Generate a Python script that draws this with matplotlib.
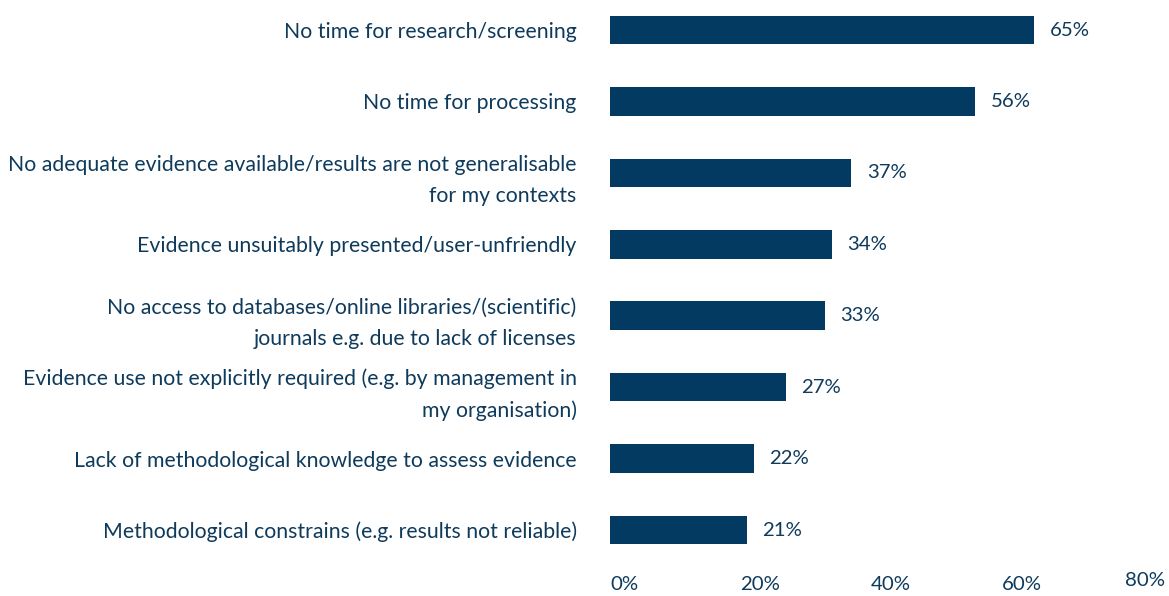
import matplotlib

matplotlib.use("Agg")
import matplotlib.pyplot as plt
from matplotlib.transforms import ScaledTranslation

# survey answers, top to bottom
categories = [
    "No time for research/screening",
    "No time for processing",
    "No adequate evidence available/results are not generalisable\nfor my contexts",
    "Evidence unsuitably presented/user-unfriendly",
    "No access to databases/online libraries/(scientific)\njournals e.g. due to lack of licenses",
    "Evidence use not explicitly required (e.g. by management in\nmy organisation)",
    "Lack of methodological knowledge to assess evidence",
    "Methodological constrains (e.g. results not reliable)",
]
values = [65, 56, 37, 34, 33, 27, 22, 21]
tick_values = [0, 20, 40, 60, 80]
tick_labels = ["0%", "20%", "40%", "60%", "80%"]

BAR = "#023a62"
TXT = "#0e3a5c"
plt.rcParams["font.family"] = ["Lato", "DejaVu Sans"]

fig = plt.figure(figsize=(11.69, 5.96), dpi=100)
ax = fig.add_axes([610 / 1169, 46 / 596, 522 / 1169, 540 / 596])

pos = list(range(len(categories)))
ax.barh(pos, values, height=0.4, color=BAR)
ax.set_xlim(0, 80)
ax.set_ylim(7.28, -0.28)

for p, v in zip(pos, values):
    ax.annotate(f"{v}%", (v, p), xytext=(11, 0), textcoords="offset points",
                va="center", ha="left", fontsize=14.7, color=TXT)

ax.set_yticks(pos)
ax.set_yticklabels(categories, fontsize=15.3, color=TXT, linespacing=1.7,
                   multialignment="right")
ax.tick_params(axis="y", length=0, pad=24)

ax.set_xticks(tick_values)
ax.set_xticklabels(tick_labels, fontsize=14.7, color=TXT, ha="left")
ax.tick_params(axis="x", length=0, pad=19)
# the last tick label sits a bit higher and further left in the original
last = ax.get_xticklabels()[-1]
last.set_transform(last.get_transform()
                   + ScaledTranslation(-0.07, 0.045, fig.dpi_scale_trans))

for s in ax.spines.values():
    s.set_visible(False)

fig.savefig("out.png", dpi=100)
